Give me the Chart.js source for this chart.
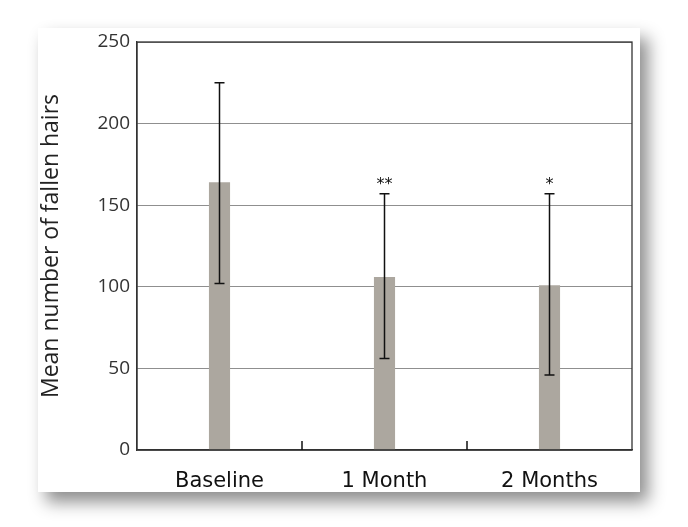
<!DOCTYPE html>
<html>
<head>
<meta charset="utf-8">
<script src="https://cdn.jsdelivr.net/npm/chart.js@4"></script>
<style>
  html, body { margin: 0; padding: 0; background: #ffffff; }
  #card {
    position: absolute;
    left: 38px; top: 28px;
    width: 602px; height: 464px;
    background: #ffffff;
    box-shadow: 8px 10px 16px rgba(0, 0, 0, 0.45);
  }
</style>
</head>
<body>
<div id="card"><canvas id="chart"></canvas></div>
<script>
const categories = ['Baseline', '1 Month', '2 Months'];
const means = [164, 106, 101];
const errUpper = [225, 157, 157];
const errLower = [102, 56, 46];
const marks = ['', '**', '*'];
const yTicks = [0, 50, 100, 150, 200, 250];

// error bars, significance stars, frame and inner category ticks
const extras = {
  id: 'extras',
  afterDatasetsDraw(chart) {
    const ctx = chart.ctx;
    const x = chart.scales.x, y = chart.scales.y;
    const a = chart.chartArea;
    ctx.save();
    ctx.strokeStyle = '#111';
    ctx.lineWidth = 1.5;
    categories.forEach((c, i) => {
      const px = x.getPixelForValue(i);
      const top = y.getPixelForValue(errUpper[i]);
      const bot = y.getPixelForValue(errLower[i]);
      ctx.beginPath();
      ctx.moveTo(px, top); ctx.lineTo(px, bot);
      ctx.moveTo(px - 5, top); ctx.lineTo(px + 5, top);
      ctx.moveTo(px - 5, bot); ctx.lineTo(px + 5, bot);
      ctx.stroke();
      if (marks[i]) {
        ctx.fillStyle = '#111';
        ctx.font = '16px "DejaVu Sans"';
        ctx.textAlign = 'center';
        ctx.textBaseline = 'bottom';
        ctx.fillText(marks[i], px, top - 1);
      }
    });
    // frame
    ctx.strokeStyle = '#333';
    ctx.lineWidth = 1.3;
    ctx.strokeRect(a.left, a.top, a.right - a.left, a.bottom - a.top);
    // ticks between categories, pointing up from the axis
    ctx.lineWidth = 1.5;
    ctx.strokeStyle = '#111';
    for (let i = 0; i < categories.length - 1; i++) {
      const bx = (x.getPixelForValue(i) + x.getPixelForValue(i + 1)) / 2;
      ctx.beginPath();
      ctx.moveTo(bx, a.bottom); ctx.lineTo(bx, a.bottom - 9);
      ctx.stroke();
    }
    ctx.restore();
  }
};

new Chart(document.getElementById('chart'), {
  type: 'bar',
  data: {
    labels: categories,
    datasets: [{
      data: means,
      backgroundColor: '#aca79f',
      borderWidth: 0,
      categoryPercentage: 1,
      barPercentage: 0.128
    }]
  },
  options: {
    responsive: true,
    maintainAspectRatio: false,
    animation: false,
    layout: { padding: { left: 0, right: 8, top: 14, bottom: 0 } },
    plugins: { legend: { display: false }, tooltip: { enabled: false } },
    scales: {
      x: {
        grid: { display: false },
        border: { display: true, color: '#333', width: 1.3 },
        ticks: {
          padding: 11,
          color: '#111',
          font: { family: '"DejaVu Sans"', size: 21 }
        },
        afterFit(s) { s.height = 42; s.paddingLeft = 0; s.paddingRight = 0; }
      },
      y: {
        min: 0, max: 250,
        afterBuildTicks(s) { s.ticks = yTicks.map(v => ({ value: v })); },
        grid: { color: '#8f8f8f', lineWidth: 1, drawTicks: false },
        border: { display: true, color: '#333', width: 1.3 },
        ticks: {
          padding: 7,
          color: '#333',
          font: { family: '"Open Sans"', size: 19 }
        },
        title: {
          display: true,
          text: 'Mean number of fallen hairs',
          color: '#222',
          font: { family: '"Open Sans"', size: 23 },
          padding: { top: 0, bottom: 0 }
        },
        afterFit(s) { s.width = 99; s.paddingTop = 0; s.paddingBottom = 0; }
      }
    }
  },
  plugins: [extras]
});
</script>
</body>
</html>
